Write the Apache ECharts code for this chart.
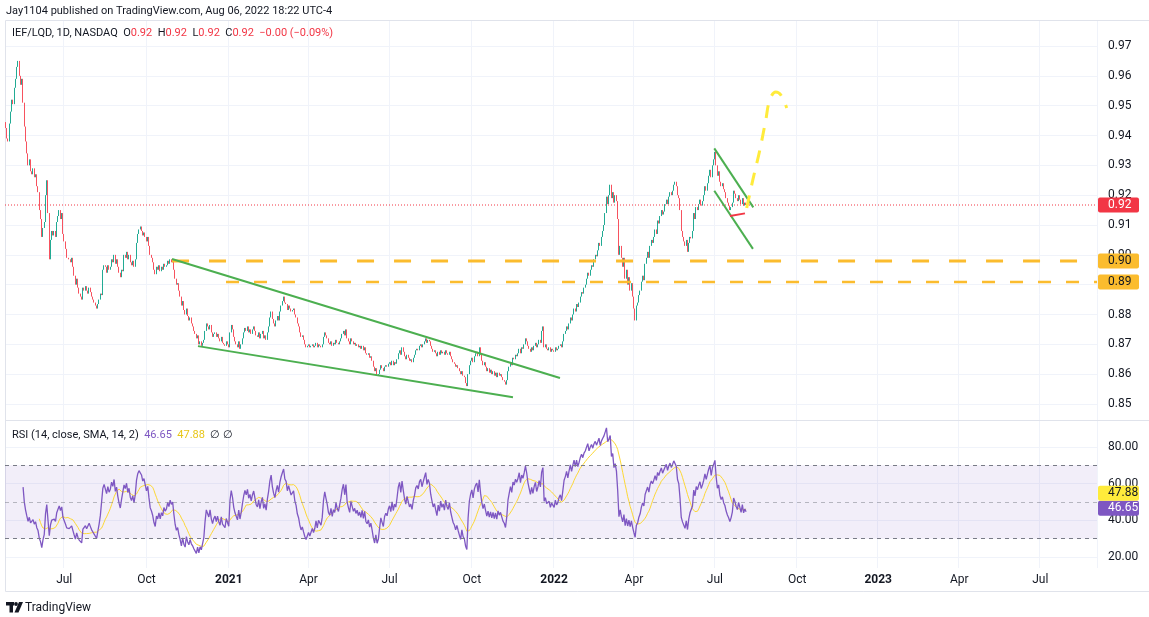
<!DOCTYPE html>
<html>
<head>
<meta charset="utf-8">
<title>IEF/LQD 1D</title>
<script src="https://cdn.jsdelivr.net/npm/echarts@6/dist/echarts.min.js"></script>
<style>
  html, body { margin: 0; padding: 0; background: #fff; }
  #main { width: 1149px; height: 617px; }
</style>
</head>
<body>
<div id="main"></div>
<script>
// daily closes of IEF/LQD, one weekday per value, first bar 2020-04-27
var closes2020 = [
  0.9425, 0.9390, 0.9380, 0.9440, 0.9480,  0.9520, 0.9505, 0.9560, 0.9590, 0.9630,
  0.9650, 0.9600, 0.9570, 0.9590, 0.9510,  0.9430, 0.9380, 0.9340, 0.9300, 0.9320,
  0.9280, 0.9270, 0.9290, 0.9260, 0.9270,  0.9230, 0.9210, 0.9150, 0.9120, 0.9060,
  0.9090, 0.9110, 0.9200, 0.9250, 0.9140,  0.8985, 0.9050, 0.9080, 0.9065, 0.9080,
  0.9060, 0.9110, 0.9130, 0.9150, 0.9120,  0.9140, 0.9070, 0.9045, 0.9020, 0.8990,
  0.8990, 0.8985, 0.8975, 0.8990, 0.8960,  0.8930, 0.8900, 0.8920, 0.8890, 0.8870,
  0.8860, 0.8850, 0.8890, 0.8880, 0.8895,  0.8880, 0.8870, 0.8890, 0.8875, 0.8860,
  0.8850, 0.8840, 0.8830, 0.8820, 0.8835,  0.8850, 0.8870, 0.8865, 0.8950, 0.8965,
  0.8960, 0.8940, 0.8965, 0.8950, 0.8960,  0.8985, 0.8975, 0.9000, 0.8970, 0.8985,
  0.8960, 0.8940, 0.8925, 0.8950, 0.8945,  0.9000, 0.8990, 0.9010, 0.8985, 0.9000,
  0.8975, 0.8965, 0.8980, 0.8960, 0.8985,  0.9040, 0.9070, 0.9085, 0.9095, 0.9080,
  0.9065, 0.9075, 0.9060, 0.9045, 0.9060,  0.9030, 0.9000, 0.8990, 0.8975, 0.8950,
  0.8935, 0.8960, 0.8950, 0.8965, 0.8945,  0.8960, 0.8950, 0.8970, 0.8960, 0.8965,
  0.8980, 0.8970, 0.8985, 0.8975, 0.8980,  0.8950, 0.8920, 0.8900, 0.8905, 0.8880,
  0.8860, 0.8830, 0.8845, 0.8815, 0.8800,  0.8820, 0.8795, 0.8780, 0.8790, 0.8770,
  0.8760, 0.8745, 0.8735, 0.8720, 0.8730,  0.8700, 0.8710, 0.8695, 0.8705, 0.8715,
  0.8745, 0.8770, 0.8760, 0.8750, 0.8765,  0.8740, 0.8725, 0.8735, 0.8740, 0.8725,
  0.8735, 0.8720, 0.8710, 0.8725, 0.8705,  0.8700, 0.8695, 0.8710, 0.8700
];
var closes2021 = [
  0.8690,
  0.8740, 0.8765, 0.8750, 0.8725, 0.8710,  0.8700, 0.8690, 0.8710, 0.8685, 0.8700,
  0.8720, 0.8740, 0.8755, 0.8745, 0.8760,  0.8740, 0.8750, 0.8735, 0.8750, 0.8760,
  0.8745, 0.8730, 0.8725, 0.8740, 0.8720,  0.8735, 0.8745, 0.8720, 0.8730, 0.8715,
  0.8740, 0.8760, 0.8790, 0.8810, 0.8785,  0.8770, 0.8760, 0.8780, 0.8795, 0.8780,
  0.8810, 0.8830, 0.8845, 0.8860, 0.8840,  0.8835, 0.8815, 0.8830, 0.8820, 0.8810,
  0.8815, 0.8820, 0.8800, 0.8790, 0.8770,  0.8760, 0.8740, 0.8725, 0.8730, 0.8715,
  0.8700, 0.8690, 0.8695, 0.8700, 0.8690,  0.8695, 0.8700, 0.8690, 0.8695, 0.8705,
  0.8690, 0.8700, 0.8695, 0.8690, 0.8700,  0.8725, 0.8740, 0.8730, 0.8720, 0.8705,
  0.8700, 0.8710, 0.8695, 0.8705, 0.8700,  0.8715, 0.8705, 0.8700, 0.8710, 0.8720,
  0.8735, 0.8745, 0.8730, 0.8750, 0.8720,  0.8710, 0.8700, 0.8720, 0.8710, 0.8700,
  0.8705, 0.8695, 0.8700, 0.8690, 0.8695,  0.8685, 0.8695, 0.8680, 0.8690, 0.8670,
  0.8665, 0.8670, 0.8655, 0.8660, 0.8645,  0.8625, 0.8610, 0.8620, 0.8595, 0.8600,
  0.8615, 0.8630, 0.8620, 0.8610, 0.8625,  0.8630, 0.8625, 0.8635, 0.8640, 0.8630,
  0.8645, 0.8630, 0.8640, 0.8635, 0.8650,  0.8670, 0.8680, 0.8665, 0.8690, 0.8675,
  0.8660, 0.8650, 0.8665, 0.8655, 0.8645,  0.8650, 0.8640, 0.8655, 0.8665, 0.8680,
  0.8685, 0.8680, 0.8695, 0.8700, 0.8690,  0.8700, 0.8710, 0.8720, 0.8705, 0.8715,
  0.8710, 0.8695, 0.8685, 0.8675, 0.8680,  0.8670, 0.8660, 0.8675, 0.8665, 0.8680,
  0.8670, 0.8675, 0.8665, 0.8680, 0.8670,  0.8665, 0.8675, 0.8660, 0.8650, 0.8640,
  0.8635, 0.8625, 0.8630, 0.8620, 0.8610,  0.8600, 0.8610, 0.8595, 0.8590, 0.8570,
  0.8560, 0.8600, 0.8630, 0.8645, 0.8655,  0.8640, 0.8660, 0.8670, 0.8675, 0.8660,
  0.8690, 0.8665, 0.8645, 0.8630, 0.8640,  0.8625, 0.8610, 0.8620, 0.8605, 0.8615,
  0.8600, 0.8610, 0.8595, 0.8605, 0.8590,  0.8605, 0.8595, 0.8600, 0.8590, 0.8580,
  0.8575, 0.8565, 0.8580, 0.8610, 0.8625,  0.8640, 0.8630, 0.8655, 0.8650, 0.8665,
  0.8660, 0.8670, 0.8685, 0.8670, 0.8690,  0.8685, 0.8700, 0.8720, 0.8710, 0.8695,
  0.8685, 0.8675, 0.8690, 0.8680, 0.8695,  0.8705, 0.8690, 0.8700, 0.8715, 0.8705,
  0.8745, 0.8760, 0.8690, 0.8700, 0.8685,  0.8680, 0.8690, 0.8675, 0.8685, 0.8680
];
var closes2022 = [
  0.8675, 0.8690, 0.8680, 0.8685, 0.8695,  0.8700, 0.8690, 0.8710, 0.8735, 0.8745,
  0.8760, 0.8750, 0.8770, 0.8790, 0.8780,  0.8800, 0.8820, 0.8810, 0.8835, 0.8825,
  0.8840, 0.8860, 0.8875, 0.8870, 0.8890,  0.8900, 0.8920, 0.8940, 0.8930, 0.8950,
  0.8965, 0.8960, 0.8985, 0.9000, 0.8995,  0.9015, 0.9040, 0.9030, 0.9060, 0.9080,
  0.9100, 0.9140, 0.9195, 0.9170, 0.9200,  0.9235, 0.9190, 0.9210, 0.9175, 0.9200,
  0.9180, 0.9120, 0.9000, 0.9030, 0.8990,  0.8960, 0.8990, 0.8920, 0.8950, 0.8900,
  0.8925, 0.8880, 0.8905, 0.8860, 0.8820,  0.8780, 0.8830, 0.8840, 0.8865, 0.8880,
  0.8910, 0.8930, 0.8915, 0.8970, 0.8990,  0.9010, 0.8990, 0.9030, 0.9050, 0.9040,
  0.9060, 0.9085, 0.9070, 0.9115, 0.9105,  0.9130, 0.9150, 0.9135, 0.9145, 0.9170,
  0.9185, 0.9170, 0.9195, 0.9210, 0.9200,  0.9215, 0.9235, 0.9245, 0.9230, 0.9200,
  0.9190, 0.9150, 0.9080, 0.9060, 0.9045,  0.9030, 0.9050, 0.9010, 0.9040, 0.9060,
  0.9055, 0.9080, 0.9140, 0.9120, 0.9160,  0.9150, 0.9170, 0.9185, 0.9165, 0.9180,
  0.9200, 0.9230, 0.9215, 0.9240, 0.9265,  0.9285, 0.9260, 0.9300, 0.9320, 0.9345,
  0.9300, 0.9265, 0.9280, 0.9245, 0.9230,  0.9240, 0.9220, 0.9210, 0.9190, 0.9175,
  0.9165, 0.9150, 0.9160, 0.9175, 0.9215,  0.9205, 0.9190, 0.9180, 0.9200, 0.9185,
  0.9170, 0.9190, 0.9165, 0.9175, 0.9167
];
var firstOpen = 0.9445;

// drawings, as [bar index, price]
var wedgeUpper = [[133.5, 0.8986], [444.7, 0.8587]];
var wedgeLower = [[154.3, 0.8694], [407.0, 0.8523]];
var flagUpper = [[568.5, 0.9357], [599.8, 0.9159]];
var flagLower = [[568.5, 0.9215], [599.5, 0.9020]];
var redStroke = [[581.1, 0.9130], [593.1, 0.9139]];
var projection = [[594.5, 0.9157], [599.4, 0.9251], [605.0, 0.9351], [609.8, 0.9452],
                  [613.0, 0.9519], [617.8, 0.9546], [621.8, 0.9536], [626.6, 0.9492]];
var level90 = { from: 133.5, value: 0.8979, text: '0.90' };
var level89 = { from: 176.8, value: 0.8909, text: '0.89' };
var lastPrice = 0.9167;
var rsiLast = 46.65, smaLast = 47.88;

var barCount = 876;
var monthNames = ['Jan', 'Feb', 'Mar', 'Apr', 'May', 'Jun', 'Jul', 'Aug', 'Sep', 'Oct', 'Nov', 'Dec'];

var FONT = 'Roboto, "Noto Sans", sans-serif';
var TXT = '#131722';
var UP = '#22ab94', DOWN = '#f7525f', RED = '#f23645';
var GRIDC = '#f0f3fa';

// weekday calendar
var dates = [];
var d = new Date(Date.UTC(2020, 3, 27));
while (dates.length < barCount) {
  var wd = d.getUTCDay();
  if (wd !== 0 && wd !== 6) dates.push(d.toISOString().slice(0, 10));
  d.setUTCDate(d.getUTCDate() + 1);
}
function isQuarterStart(i) {
  if (i <= 0) return false;
  var m = +dates[i].slice(5, 7), pm = +dates[i - 1].slice(5, 7);
  return m !== pm && (m - 1) % 3 === 0;
}
function quarterLabel(value) {
  var m = +value.slice(5, 7);
  return m === 1 ? '{y|' + value.slice(0, 4) + '}' : monthNames[m - 1];
}

var closes = closes2020.concat(closes2021, closes2022);
var candles = closes.map(function (c, i) {
  var o = i ? closes[i - 1] : firstOpen;
  return [o, c, Math.min(o, c), Math.max(o, c)];
});

// RSI(14) with Wilder smoothing, then SMA(14) of it
function calcRsi(cl, n) {
  var out = cl.map(function () { return null; });
  var up = 0, dn = 0;
  for (var i = 1; i < cl.length; i++) {
    var ch = cl[i] - cl[i - 1];
    var u = Math.max(ch, 0), w = Math.max(-ch, 0);
    if (i <= n) {
      up += u / n; dn += w / n;
      if (i < n) continue;
    } else {
      up = (up * (n - 1) + u) / n;
      dn = (dn * (n - 1) + w) / n;
    }
    out[i] = dn === 0 ? 100 : 100 - 100 / (1 + up / dn);
  }
  return out;
}
function calcSma(arr, n) {
  return arr.map(function (v, i) {
    if (i < n - 1) return null;
    var s = 0;
    for (var k = i - n + 1; k <= i; k++) {
      if (arr[k] == null) return null;
      s += arr[k];
    }
    return s / n;
  });
}
var rsiVals = calcRsi(closes, 14);
var smaVals = calcSma(rsiVals, 14);

function lineSeries(data, color, width, type, extra) {
  var s = {
    type: 'line', xAxisIndex: 2, yAxisIndex: 0, data: data,
    showSymbol: false, symbol: 'none', silent: true, clip: false, z: 5,
    lineStyle: { color: color, width: width, type: type || 'solid', cap: 'butt' }
  };
  for (var k in extra) s[k] = extra[k];
  return s;
}

var chart = echarts.init(document.getElementById('main'));

var option = {
  animation: false,
  backgroundColor: '#ffffff',
  textStyle: { fontFamily: FONT },
  grid: [
    { left: 5, width: 1092, top: 46, height: 358 },
    { left: 5, width: 1092, top: 447, height: 110 },
    { left: 5, width: 1092, top: 21, height: 547 }
  ],
  xAxis: [
    { gridIndex: 0, type: 'category', data: dates, boundaryGap: true, show: false },
    { gridIndex: 1, type: 'category', data: dates, boundaryGap: true, show: false },
    { gridIndex: 0, type: 'value', min: -0.5, max: barCount - 0.5, show: false },
    {
      gridIndex: 2, type: 'category', data: dates, boundaryGap: true,
      axisLine: { show: false }, axisTick: { show: false },
      axisLabel: {
        interval: isQuarterStart, formatter: quarterLabel,
        color: TXT, fontSize: 12, fontFamily: FONT, margin: 6,
        rich: { y: { fontWeight: 'bold', fontSize: 12, color: TXT, fontFamily: FONT } }
      },
      splitLine: { show: true, interval: isQuarterStart, lineStyle: { color: GRIDC, width: 1 } }
    }
  ],
  yAxis: [
    {
      gridIndex: 0, type: 'value', position: 'right', min: 0.85, max: 0.97, interval: 0.01,
      axisLine: { show: false }, axisTick: { show: false },
      axisLabel: { color: TXT, fontSize: 12, fontFamily: FONT, margin: 11,
        formatter: function (v) { return v.toFixed(2); } },
      splitLine: { lineStyle: { color: GRIDC } }
    },
    {
      gridIndex: 1, type: 'value', position: 'right', min: 20, max: 80, interval: 20,
      axisLine: { show: false }, axisTick: { show: false },
      axisLabel: { color: TXT, fontSize: 12, fontFamily: FONT, margin: 11,
        formatter: function (v) { return v.toFixed(2); } },
      splitLine: { lineStyle: { color: GRIDC } }
    },
    { gridIndex: 2, type: 'value', min: 0, max: 1, show: false }
  ],
  series: [
    {
      type: 'candlestick', xAxisIndex: 0, yAxisIndex: 0, data: candles,
      barWidth: 1, silent: true, z: 3,
      itemStyle: { color: UP, color0: DOWN, borderColor: UP, borderColor0: DOWN, borderWidth: 1 }
    },
    {
      type: 'line', xAxisIndex: 1, yAxisIndex: 1, data: rsiVals,
      showSymbol: false, symbol: 'none', clip: false, silent: true, z: 4,
      lineStyle: { color: '#7e57c2', width: 1.3 },
      markArea: {
        silent: true,
        itemStyle: { color: 'rgba(126,87,194,0.1)' },
        data: [[{ yAxis: 30 }, { yAxis: 70 }]]
      },
      markLine: {
        silent: true, symbol: 'none', label: { show: false },
        data: [
          { yAxis: 70, lineStyle: { color: '#787b86', type: [4, 4], width: 1 } },
          { yAxis: 50, lineStyle: { color: 'rgba(120,123,134,0.5)', type: [4, 4], width: 1 } },
          { yAxis: 30, lineStyle: { color: '#787b86', type: [4, 4], width: 1 } }
        ]
      }
    },
    {
      type: 'line', xAxisIndex: 1, yAxisIndex: 1, data: smaVals,
      showSymbol: false, symbol: 'none', clip: false, silent: true, z: 3,
      lineStyle: { color: '#fdd835', width: 1 }
    },
    lineSeries([[level90.from, level90.value], [barCount - 0.5, level90.value]], '#fbbc2e', 3, [17, 20]),
    lineSeries([[level89.from, level89.value], [barCount - 0.5, level89.value]], '#fbbc2e', 2.5, [13, 15]),
    lineSeries([[-0.5, lastPrice], [barCount - 0.5, lastPrice]], RED, 1, [1, 2], { z: 4 }),
    lineSeries(wedgeUpper, '#4caf50', 2),
    lineSeries(wedgeLower, '#4caf50', 2),
    lineSeries(flagUpper, '#4caf50', 2),
    lineSeries(flagLower, '#4caf50', 2),
    lineSeries(redStroke, RED, 2),
    lineSeries(projection, '#ffeb3b', 3, [13, 10], { smooth: 0.4 })
  ]
};
chart.setOption(option);

function tag(yIndex, value, text, bg, fg, shift) {
  var y = chart.convertToPixel({ yAxisIndex: yIndex }, value) + (shift || 0);
  return {
    type: 'group', z: 100,
    children: [
      { type: 'rect', z: 100, shape: { x: 1098, y: y - 7.5, width: 41, height: 15, r: 2 }, style: { fill: bg } },
      { type: 'text', z: 101, x: 1108, y: y, style: { text: text, fill: fg, font: '12px ' + FONT, verticalAlign: 'middle' } }
    ]
  };
}

var small = '11px ' + FONT;
chart.setOption({
  graphic: [
    { type: 'rect', z: 0, silent: true, shape: { x: 5.5, y: 20.5, width: 1150, height: 571 },
      style: { fill: null, stroke: '#e0e3eb', lineWidth: 1 } },
    { type: 'line', z: 0, silent: true, shape: { x1: 5, y1: 420.5, x2: 1149, y2: 420.5 },
      style: { stroke: '#e0e3eb', lineWidth: 1 } },
    { type: 'text', x: 6, y: 11, style: { text: 'Jay1104 published on TradingView.com, Aug 06, 2022 18:22 UTC-4',
      fill: TXT, font: small, verticalAlign: 'middle' } },
    { type: 'text', x: 12, y: 33, z: 50, style: {
      text: '{d|IEF/LQD, 1D, NASDAQ}  {d|O}{r|0.92}  {d|H}{r|0.92}  {d|L}{r|0.92}  {d|C}{r|0.92}  {r|\u22120.00 (\u22120.09%)}',
      fill: TXT, font: small, verticalAlign: 'middle',
      rich: { d: { fill: TXT, font: small }, r: { fill: RED, font: small } } } },
    { type: 'text', x: 12, y: 435, z: 50, style: {
      text: '{d|RSI (14, close, SMA, 14, 2)}  {p|' + rsiLast.toFixed(2) + '}  {y|' + smaLast.toFixed(2) + '}  {d|\u2205 \u2205}',
      fill: TXT, font: small, verticalAlign: 'middle',
      rich: { d: { fill: TXT, font: small }, p: { fill: '#7e57c2', font: small },
              y: { fill: '#e8c619', font: small } } } },
    tag(0, lastPrice, '0.92', RED, '#ffffff'),
    tag(0, level90.value, level90.text, '#fbbc2e', TXT),
    tag(0, level89.value, level89.text, '#fbbc2e', TXT),
    tag(1, rsiLast, rsiLast.toFixed(2), '#7e57c2', '#ffffff'),
    tag(1, rsiLast, smaLast.toFixed(2), '#ffeb3b', TXT, -15),
    // TradingView logo
    { type: 'group', silent: true, children: [
      { type: 'rect', shape: { x: 6, y: 602, width: 8, height: 3.5 }, style: { fill: TXT } },
      { type: 'rect', shape: { x: 9.5, y: 602, width: 3.5, height: 10.5 }, style: { fill: TXT } },
      { type: 'circle', shape: { cx: 16, cy: 604, r: 1.9 }, style: { fill: TXT } },
      { type: 'polygon', shape: { points: [[19, 602], [23, 602], [18.5, 612.5], [14.5, 612.5]] }, style: { fill: TXT } },
      { type: 'text', x: 25, y: 607.5, style: { text: 'TradingView', fill: TXT, font: '12px ' + FONT, verticalAlign: 'middle' } }
    ] }
  ]
});
</script>
</body>
</html>
